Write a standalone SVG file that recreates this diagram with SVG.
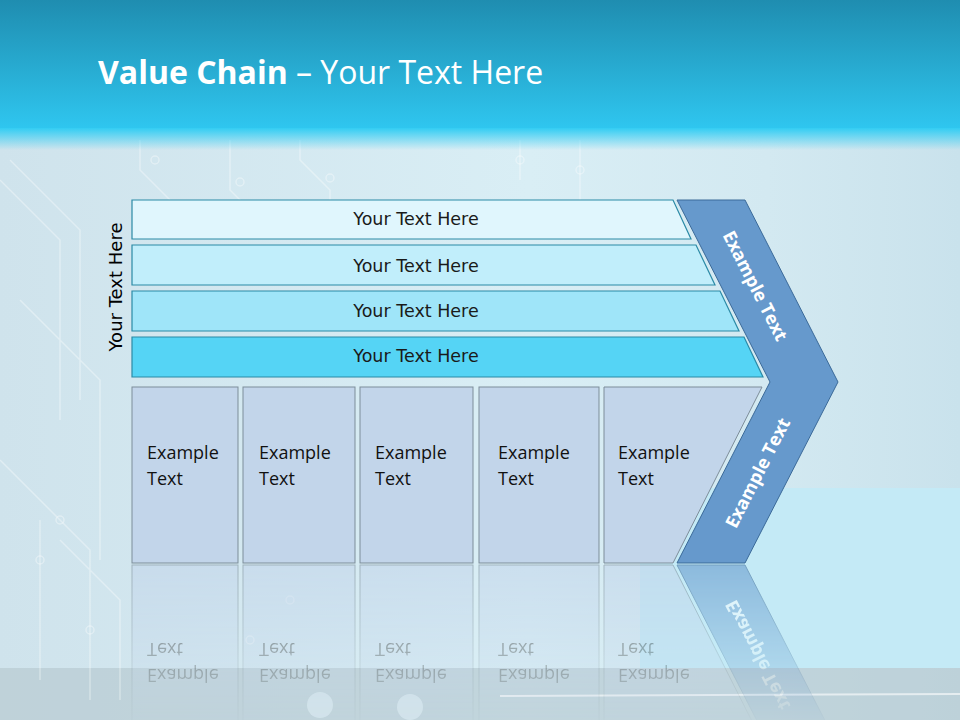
<svg xmlns="http://www.w3.org/2000/svg" xmlns:xlink="http://www.w3.org/1999/xlink" width="960" height="720" viewBox="0 0 960 720">
<defs>
<linearGradient id="topband" x1="0" y1="0" x2="0" y2="1">
<stop offset="0" stop-color="#1f8db0"/>
<stop offset="1" stop-color="#2fc6ef"/>
</linearGradient>
<linearGradient id="glow" x1="0" y1="0" x2="0" y2="1">
<stop offset="0" stop-color="#33cdf3"/>
<stop offset="1" stop-color="#33cdf3" stop-opacity="0"/>
</linearGradient>
<linearGradient id="bodybg" x1="0" y1="0" x2="1" y2="0">
<stop offset="0" stop-color="#cfe3ec"/>
<stop offset="0.55" stop-color="#d9eef5"/>
<stop offset="0.8" stop-color="#d3e9f1"/>
<stop offset="1" stop-color="#c9e2ec"/>
</linearGradient>
<linearGradient id="fade" x1="0" y1="0" x2="0" y2="1">
<stop offset="0" stop-color="#fff" stop-opacity="0.6"/>
<stop offset="1" stop-color="#fff" stop-opacity="0.05"/>
</linearGradient>
<mask id="reflmask" maskUnits="userSpaceOnUse" x="0" y="563" width="960" height="157">
<rect x="0" y="563" width="960" height="157" fill="url(#fade)"/>
</mask>
<style>
.bar{stroke:#2b8aa6;stroke-width:1.2}
.box{fill:#c2d5ea;stroke:#7d8d99;stroke-width:1}
.bt{font-family:"DejaVu Sans",sans-serif;font-size:17.5px;fill:#1a1a1a}
.et{font-family:"Open Sans","Liberation Sans",sans-serif;font-size:18px;fill:#111}
.ct{font-family:"Open Sans","Liberation Sans",sans-serif;font-size:18px;font-weight:bold;fill:#ffffff}
.trace{fill:none;stroke:#ffffff;stroke-opacity:0.45;stroke-width:1.5}
</style>
</defs>

<!-- background -->
<rect x="0" y="0" width="960" height="720" fill="url(#bodybg)"/>
<rect x="640" y="488" width="320" height="180" fill="#c4eaf6"/>
<rect x="0" y="668" width="960" height="52" fill="#b8cbd2" opacity="0.7"/>
<line x1="500" y1="696" x2="960" y2="694" stroke="#ffffff" stroke-opacity="0.6" stroke-width="2"/>
<g opacity="0.8">
<path class="trace" d="M0 180 L60 240 L60 420 M10 160 L80 230 L80 400 M20 300 L100 380 L100 560 M0 460 L90 550 L90 700 M140 140 L140 170 L170 200 M230 140 L230 190 L260 220 M300 140 L300 160 L330 190 L330 220 M520 140 L520 180 M580 140 L580 200 M40 520 L40 680 M60 540 L120 600 L120 700"/>
<circle class="trace" cx="155" cy="160" r="4"/><circle class="trace" cx="240" cy="182" r="4"/><circle class="trace" cx="330" cy="178" r="4"/><circle class="trace" cx="580" cy="170" r="4"/><circle class="trace" cx="520" cy="160" r="4"/><circle class="trace" cx="60" cy="520" r="4"/><circle class="trace" cx="40" cy="560" r="4"/><circle class="trace" cx="90" cy="630" r="4"/><circle class="trace" cx="250" cy="640" r="4"/><circle class="trace" cx="290" cy="600" r="4"/>
<circle cx="320" cy="705" r="13" fill="#e8f6fb" opacity="0.6"/><circle cx="410" cy="707" r="13" fill="#e8f6fb" opacity="0.6"/>
</g>
<rect x="0" y="0" width="960" height="128" fill="url(#topband)"/>
<rect x="0" y="128" width="960" height="22" fill="url(#glow)"/>

<!-- title -->
<text x="98" y="84" font-family="Open Sans, Liberation Sans, sans-serif" font-size="32" fill="#ffffff"><tspan font-weight="bold">Value Chain</tspan> – Your Text Here</text>

<!-- vertical label -->
<text x="0" y="0" transform="translate(122,287) rotate(-90)" text-anchor="middle" font-family="DejaVu Sans, sans-serif" font-size="18" fill="#000">Your Text Here</text>

<g id="diagram">
<g id="bar1"><polygon class="bar" fill="#e0f6fd" points="132,200 673,200 691,239 132,239"/><text class="bt" x="416" y="225" text-anchor="middle">Your Text Here</text></g>
<g id="bar2"><polygon class="bar" fill="#c1eefb" points="132,245 696,245 715,285 132,285"/><text class="bt" x="416" y="272" text-anchor="middle">Your Text Here</text></g>
<g id="bar3"><polygon class="bar" fill="#9fe5f9" points="132,291 720,291 739,331 132,331"/><text class="bt" x="416" y="317" text-anchor="middle">Your Text Here</text></g>
<g id="bar4"><polygon class="bar" fill="#55d4f5" points="132,337 744,337 763,377 132,377"/><text class="bt" x="416" y="362" text-anchor="middle">Your Text Here</text></g>

<g id="boxes">
<g id="box1"><rect class="box" x="132" y="387" width="106" height="176"/><text class="et" x="147" y="459">Example</text><text class="et" x="147" y="485">Text</text></g>
<g id="box2"><rect class="box" x="243" y="387" width="112" height="176"/><text class="et" x="259" y="459">Example</text><text class="et" x="259" y="485">Text</text></g>
<g id="box3"><rect class="box" x="360" y="387" width="113" height="176"/><text class="et" x="375" y="459">Example</text><text class="et" x="375" y="485">Text</text></g>
<g id="box4"><rect class="box" x="479" y="387" width="120" height="176"/><text class="et" x="498" y="459">Example</text><text class="et" x="498" y="485">Text</text></g>
<g id="box5"><polygon class="box" points="604,387 762,387 673,563 604,563"/><text class="et" x="618" y="459">Example</text><text class="et" x="618" y="485">Text</text></g>
</g>

<g id="chevron">
<polygon points="677,200 745,200 838,382 745,563 677,563 770,382" fill="#6699cc" stroke="#3b6a99" stroke-width="1"/>
<text class="ct" transform="translate(755,286) rotate(63)" text-anchor="middle" dy="6">Example Text</text>
<text class="ct" transform="translate(758,473) rotate(-63)" text-anchor="middle" dy="6">Example Text</text>
</g>
</g>

<!-- reflection -->
<g id="reflection" mask="url(#reflmask)">
<use xlink:href="#boxes" transform="translate(0,1128) scale(1,-1)"/>
<use xlink:href="#chevron" transform="translate(0,1128) scale(1,-1)"/>
</g>
</svg>
